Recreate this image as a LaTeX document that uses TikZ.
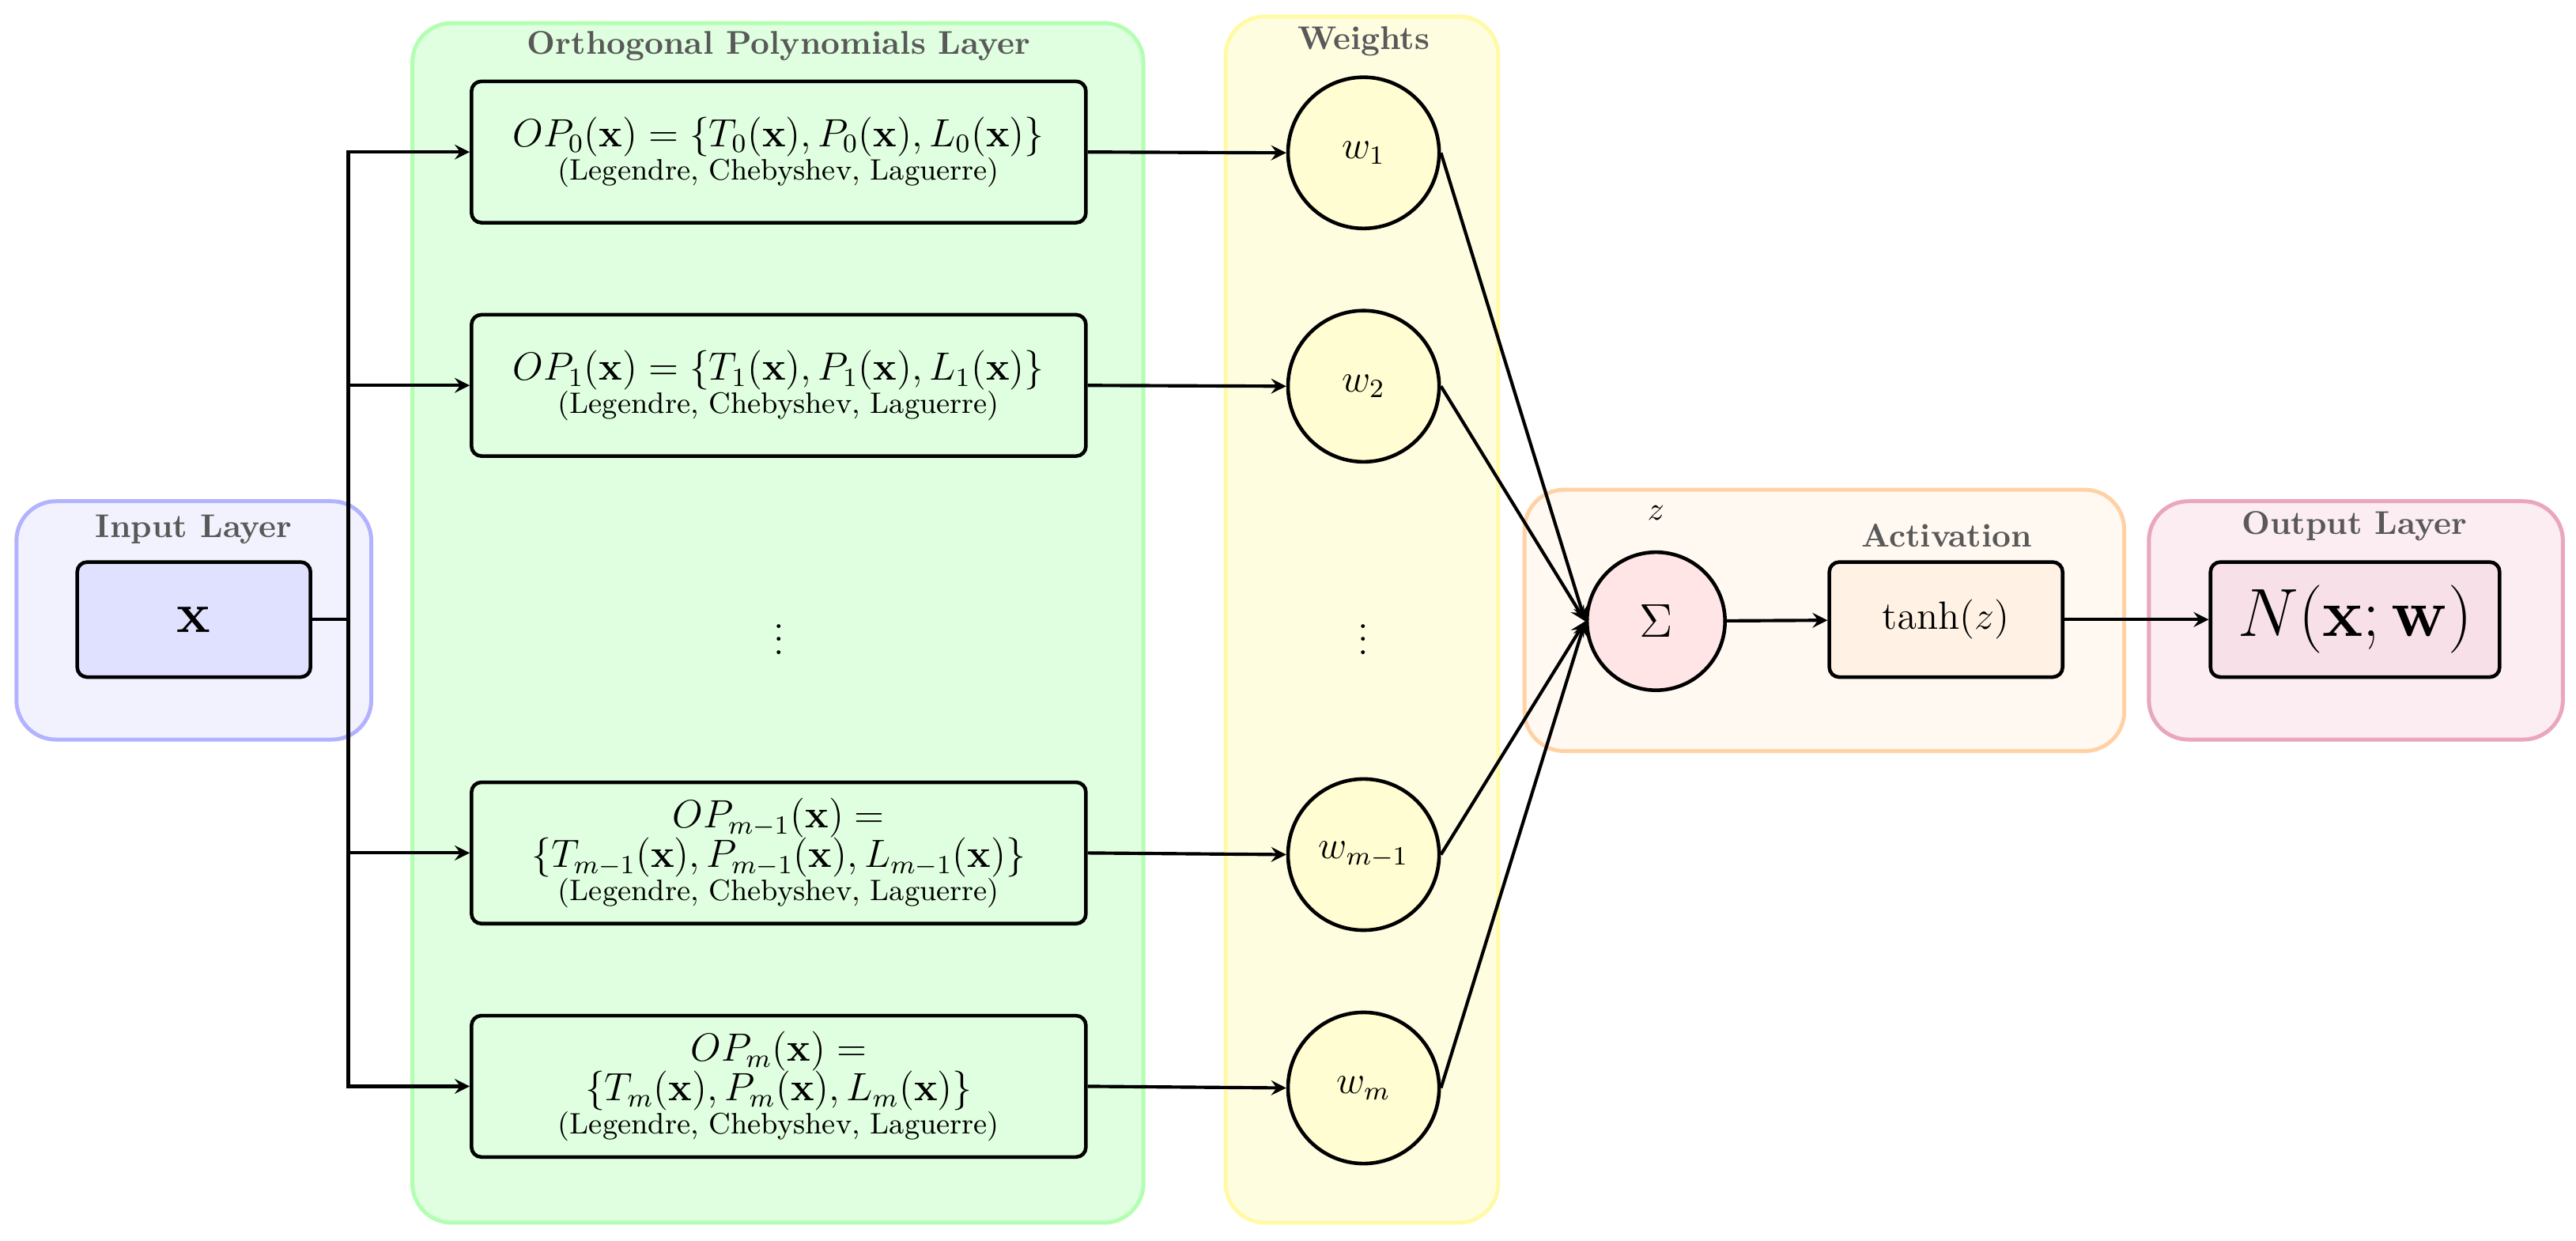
\documentclass[tikz,border=0pt]{standalone}
\usepackage{amsmath}
\begin{document}
\begin{tikzpicture}[x=0.5pt,y=-0.5pt,
 grp/.style={rounded corners=12pt,line width=1.2pt},
 ttl/.style={font=\normalsize\bfseries,text=black!65},
 box/.style={draw,line width=1.1pt,rounded corners=3pt,anchor=center},
 opbox/.style={box,fill=green!12,minimum width=187pt,minimum height=43pt,align=center,inner sep=1pt},
 wc/.style={circle,draw,line width=1.1pt,fill=yellow!18,minimum size=46pt,inner sep=0pt,font=\large},
 ar/.style={->,>=stealth,line width=1pt}]
\useasboundingbox (0,0) rectangle (1568,755);
% groups
\draw[grp,draw=blue!30,fill=blue!5] (10,305) rectangle (226,450);
\draw[grp,draw=green!30,fill=green!12] (251,14) rectangle (696,744);
\draw[grp,draw=yellow!35,fill=yellow!12] (746,10) rectangle (912,744);
\draw[grp,draw=orange!35,fill=orange!5] (928,298) rectangle (1293,457);
\draw[grp,draw=purple!35,fill=purple!7] (1308,305) rectangle (1560,450);
\node[ttl] (t1) at (118,322) {Input Layer};
\node[ttl] (t2) at (474,28) {Orthogonal Polynomials Layer};
\node[ttl] (t3) at (830,25) {Weights};
\node[ttl] (t4) at (1185,326) {Activation};
\node[ttl] (t5) at (1433,320) {Output Layer};
\node (zl) at (1008,312) {$z$};
% nodes
\node[box,fill=blue!12,minimum width=71pt,minimum height=35pt,font=\LARGE] (x) at (118,377) {$\mathbf{x}$};
\node[opbox] (o0) at (474,92.5) {\large $OP_0(\mathbf{x})=\{T_0(\mathbf{x}),P_0(\mathbf{x}),L_0(\mathbf{x})\}$\\[-2pt]{\small (Legendre, Chebyshev, Laguerre)}};
\node[opbox] (o1) at (474,234.5) {\large $OP_1(\mathbf{x})=\{T_1(\mathbf{x}),P_1(\mathbf{x}),L_1(\mathbf{x})\}$\\[-2pt]{\small (Legendre, Chebyshev, Laguerre)}};
\node[opbox] (o2) at (474,519) {\large $OP_{m-1}(\mathbf{x})=$\\\large $\{T_{m-1}(\mathbf{x}),P_{m-1}(\mathbf{x}),L_{m-1}(\mathbf{x})\}$\\[-2pt]{\small (Legendre, Chebyshev, Laguerre)}};
\node[opbox] (o3) at (474,661) {\large $OP_{m}(\mathbf{x})=$\\\large $\{T_{m}(\mathbf{x}),P_{m}(\mathbf{x}),L_{m}(\mathbf{x})\}$\\[-2pt]{\small (Legendre, Chebyshev, Laguerre)}};
\node[font=\large] (d1) at (474,383) {$\vdots$};
\node[font=\large] (d2) at (830,383) {$\vdots$};
\node[wc] (w0) at (830,93) {$w_1$};
\node[wc] (w1) at (830,235) {$w_2$};
\node[wc] (w2) at (830,520) {$w_{m-1}$};
\node[wc] (w3) at (830,662) {$w_m$};
\node[circle,draw,line width=1.1pt,fill=red!10,minimum size=42pt,inner sep=0pt,font=\Large] (s) at (1008,378) {$\Sigma$};
\node[box,fill=orange!10,minimum width=71pt,minimum height=35pt,font=\large] (a) at (1184.5,377) {$\tanh(z)$};
\node[box,fill=purple!12,minimum width=88pt,minimum height=35pt,font=\huge] (out) at (1433.5,377) {$N(\mathbf{x};\mathbf{w})$};
% connectors
\coordinate (j) at (212,377);
\draw[line width=1pt] (x.east) -- (j);
\foreach \i in {0,...,3}{
 \draw[ar] (j) |- (o\i.west);
 \draw[ar] (o\i.east) -- (w\i.west);
 \draw[ar] (w\i.east) -- (s.west);
}
\draw[ar] (s) -- (a);
\draw[ar] (a) -- (out);
\end{tikzpicture}
\end{document}
